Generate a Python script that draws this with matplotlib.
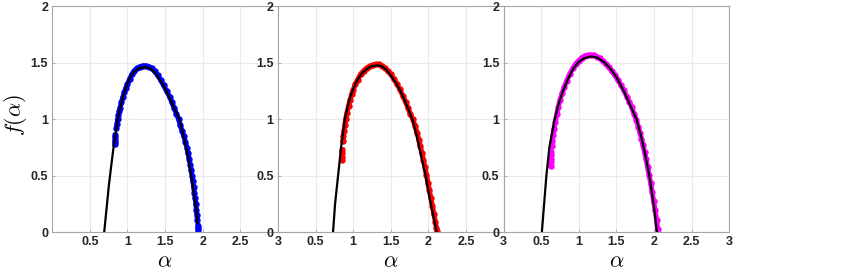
""" Multifractal spectra f(alpha), three panels """
import matplotlib
matplotlib.use("Agg")
import matplotlib.pyplot as plt

# black fitted curves (alpha, f)
alpha_fit_1 = [0.69, 0.72, 0.75, 0.78, 0.81, 0.84, 0.87, 0.91, 0.95, 1.00, 1.06, 1.13,
               1.22, 1.30, 1.37, 1.44, 1.50, 1.56, 1.62, 1.69, 1.74, 1.78, 1.82, 1.85,
               1.88, 1.91, 1.93]
f_fit_1 = [0.00, 0.20, 0.40, 0.57, 0.73, 0.87, 1.00, 1.12, 1.22, 1.32, 1.40, 1.445,
           1.463, 1.45, 1.41, 1.34, 1.27, 1.19, 1.10, 1.00, 0.87, 0.75, 0.61, 0.49,
           0.36, 0.22, 0.08]

alpha_fit_2 = [0.733, 0.76, 0.80, 0.84, 0.89, 0.94, 0.99, 1.05, 1.12, 1.20, 1.26, 1.32,
               1.38, 1.44, 1.50, 1.57, 1.63, 1.69, 1.74, 1.787, 1.84, 1.88, 1.93, 1.964,
               2.01, 2.05, 2.09, 2.11]
f_fit_2 = [0.00, 0.25, 0.50, 0.75, 1.00, 1.15, 1.25, 1.34, 1.41, 1.455, 1.472, 1.478,
           1.47, 1.44, 1.39, 1.32, 1.25, 1.16, 1.08, 1.00, 0.87, 0.75, 0.60, 0.50,
           0.33, 0.20, 0.07, 0.00]

alpha_fit_3 = [0.51, 0.54, 0.57, 0.61, 0.68, 0.73, 0.79, 0.86, 0.93, 1.00, 1.07, 1.17,
               1.25, 1.33, 1.42, 1.50, 1.56, 1.60, 1.68, 1.77, 1.83, 1.88, 1.94, 1.98,
               2.01, 2.04]
f_fit_3 = [0.00, 0.25, 0.50, 0.75, 1.00, 1.13, 1.25, 1.36, 1.45, 1.507, 1.54, 1.557,
           1.545, 1.51, 1.45, 1.375, 1.30, 1.25, 1.13, 1.00, 0.85, 0.70, 0.50, 0.32,
           0.18, 0.00]

# estimated spectra (markers); "low" points form the short lower group
alpha_low_1 = [0.835, 0.835, 0.836, 0.837, 0.838]
f_low_1 = [0.78, 0.80, 0.82, 0.84, 0.86]
alpha_est_1 = [0.852, 0.86, 0.87, 0.88, 0.89, 0.90, 0.92, 0.94, 0.96, 0.98, 1.00, 1.03,
               1.06, 1.09, 1.12, 1.16, 1.20, 1.24, 1.28, 1.32, 1.36, 1.40, 1.44, 1.48,
               1.52, 1.56, 1.59, 1.62, 1.65, 1.68, 1.70, 1.725, 1.75, 1.77, 1.79, 1.805,
               1.82, 1.835, 1.845, 1.86, 1.87, 1.88, 1.89, 1.90, 1.91, 1.915, 1.925, 1.93]
f_est_1 = [0.92, 0.96, 1.00, 1.04, 1.07, 1.10, 1.15, 1.20, 1.24, 1.28, 1.31, 1.36,
           1.40, 1.43, 1.45, 1.465, 1.472, 1.473, 1.465, 1.45, 1.425, 1.39, 1.35, 1.30,
           1.25, 1.20, 1.15, 1.10, 1.05, 1.00, 0.95, 0.90, 0.85, 0.80, 0.75, 0.70,
           0.65, 0.60, 0.55, 0.50, 0.45, 0.40, 0.35, 0.30, 0.25, 0.20, 0.15, 0.11]
alpha_tail_1 = [1.937, 1.938, 1.939]
f_tail_1 = [0.06, 0.04, 0.02]

alpha_low_2 = [0.855, 0.855, 0.856, 0.857]
f_low_2 = [0.64, 0.67, 0.70, 0.73]
alpha_est_2 = [0.865, 0.87, 0.88, 0.89, 0.90, 0.92, 0.94, 0.96, 0.98, 1.00, 1.03, 1.06,
               1.10, 1.14, 1.18, 1.22, 1.26, 1.30, 1.34, 1.38, 1.42, 1.46, 1.50, 1.54,
               1.58, 1.62, 1.66, 1.70, 1.73, 1.76, 1.795, 1.825, 1.85, 1.875, 1.895,
               1.915, 1.935, 1.955, 1.975, 1.995, 2.015, 2.035, 2.055, 2.075, 2.095,
               2.108, 2.118]
f_est_2 = [0.81, 0.85, 0.90, 0.95, 1.00, 1.06, 1.12, 1.17, 1.22, 1.26, 1.31, 1.35,
           1.40, 1.43, 1.455, 1.47, 1.48, 1.485, 1.485, 1.475, 1.455, 1.43, 1.40, 1.36,
           1.315, 1.265, 1.21, 1.15, 1.10, 1.05, 1.00, 0.94, 0.88, 0.82, 0.76,
           0.70, 0.64, 0.58, 0.51, 0.44, 0.37, 0.30, 0.23, 0.16, 0.09,
           0.04, 0.01]

alpha_low_3 = [0.630, 0.630, 0.631, 0.632, 0.633]
f_low_3 = [0.59, 0.62, 0.65, 0.68, 0.71]
alpha_est_3 = [0.64, 0.65, 0.66, 0.67, 0.69, 0.71, 0.73, 0.75, 0.78, 0.81, 0.84, 0.88,
               0.92, 0.96, 1.00, 1.04, 1.08, 1.12, 1.16, 1.20, 1.24, 1.28, 1.32, 1.36,
               1.40, 1.44, 1.48, 1.52, 1.56, 1.60, 1.64, 1.675, 1.705, 1.735, 1.765,
               1.795, 1.815, 1.835, 1.855, 1.875, 1.895, 1.915, 1.935, 1.955, 1.975,
               1.995, 2.015, 2.035, 2.05]
f_est_3 = [0.76, 0.81, 0.86, 0.91, 0.98, 1.05, 1.11, 1.17, 1.23, 1.29, 1.34, 1.40,
           1.45, 1.49, 1.52, 1.545, 1.56, 1.567, 1.568, 1.565, 1.555, 1.54, 1.515, 1.49,
           1.46, 1.425, 1.39, 1.35, 1.305, 1.255, 1.20, 1.155, 1.105, 1.05, 0.995,
           0.93, 0.88, 0.83, 0.77, 0.71, 0.65, 0.58, 0.51, 0.44, 0.36,
           0.28, 0.20, 0.11, 0.03]

est_colors = ["#0000ff", "#ff0000", "#ff00ff"]
x_ticks = [0.5, 1, 1.5, 2, 2.5, 3]
x_tick_labels = ["0.5", "1", "1.5", "2", "2.5", "3"]
y_ticks = [0, 0.5, 1, 1.5, 2]
y_tick_labels = ["0", "0.5", "1", "1.5", "2"]

plt.rcParams["font.family"] = ["Liberation Sans", "DejaVu Sans"]
plt.rcParams["mathtext.fontset"] = "cm"

fig = plt.figure(figsize=(8.48, 2.72), dpi=100)

fits = [(alpha_fit_1, f_fit_1), (alpha_fit_2, f_fit_2), (alpha_fit_3, f_fit_3)]
ests = [[(alpha_low_1, f_low_1), (alpha_est_1, f_est_1), (alpha_tail_1, f_tail_1)],
        [(alpha_low_2, f_low_2), (alpha_est_2, f_est_2)],
        [(alpha_low_3, f_low_3), (alpha_est_3, f_est_3)]]

left0 = 52.3 / 848
width = 225.6 / 848
bottom = (272 - 232.3) / 272
height = 226.0 / 272

for i in range(3):
  ax = fig.add_axes([left0 + i * width, bottom, width, height])
  for a_est, f_est in ests[i]:
    ax.plot(a_est, f_est, "o-", color=est_colors[i], markersize=4.6,
            linewidth=3.6, markeredgewidth=0, zorder=2)
  a_fit, f_fit = fits[i]
  ax.plot(a_fit, f_fit, "-", color="black", linewidth=1.6, zorder=3)

  ax.set_xlim(0, 3)
  ax.set_ylim(0, 2)
  ax.set_xticks(x_ticks)
  ax.set_xticklabels(x_tick_labels)
  ax.set_yticks(y_ticks)
  ax.set_yticklabels(y_tick_labels)
  ax.grid(True, color="#ebebeb", linewidth=0.8)
  ax.set_axisbelow(True)
  for spine in ax.spines.values():
    spine.set_color("#a6a6a6")
    spine.set_linewidth(0.8)
  ax.tick_params(direction="in", length=2.5, width=0.6, color="#a6a6a6",
                 labelsize=9, labelcolor="#262626", pad=3)
  for lab in ax.get_xticklabels() + ax.get_yticklabels():
    lab.set_fontweight("bold")
  ax.set_xlabel(r"$\alpha$", fontsize=16, va="center")
  ax.xaxis.set_label_coords(0.5, -0.13)
  if i == 0:
    ax.set_ylabel(r"$f(\alpha)$", fontsize=16, va="center")
    ax.yaxis.set_label_coords(-0.165, 0.52)

fig.savefig("out.png", dpi=100)
